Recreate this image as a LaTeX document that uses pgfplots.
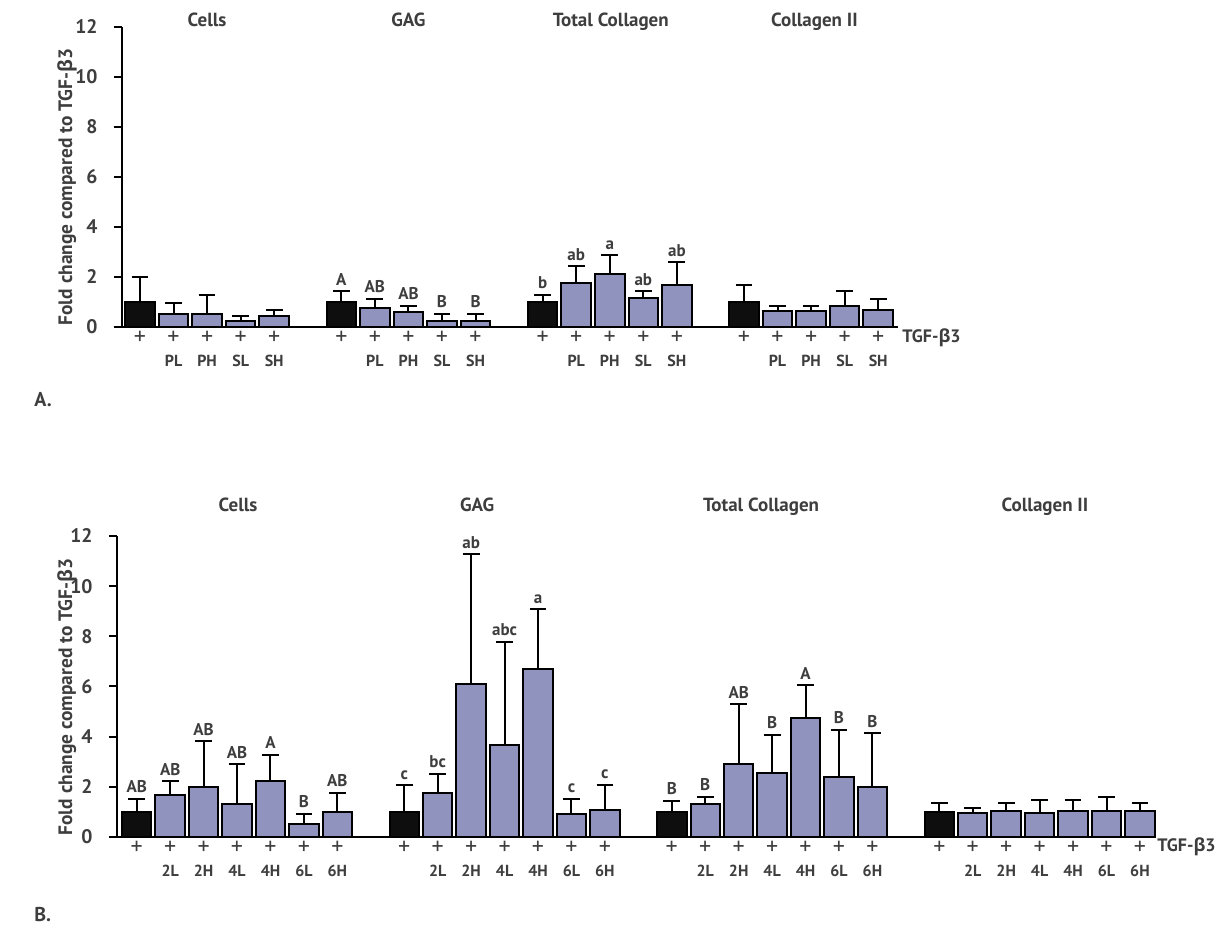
\documentclass[border=0pt]{standalone}
\usepackage{pgfplots}
\pgfplotsset{compat=1.18}
\usepackage{pgfplotstable}
\usepackage{fontspec}
\setmainfont{PT Sans}
\newfontfamily\grk{Open Sans}
\definecolor{txt}{RGB}{62,62,62}
\definecolor{lav}{RGB}{143,147,190}
\definecolor{blk}{RGB}{14,14,14}

% Panel A
\pgfplotstableread{
x y e lab
0 1.00 1.00 {}
6 1.00 0.43 A
12 1.00 0.28 b
18 1.00 0.67 {}
}\ACtl
\pgfplotstableread{
x y e lab
1 0.53 0.43 {}
2 0.53 0.76 {}
3 0.23 0.22 {}
4 0.45 0.22 {}
7 0.75 0.38 AB
8 0.60 0.25 AB
9 0.23 0.30 B
10 0.23 0.30 B
13 1.76 0.67 ab
14 2.13 0.74 a
15 1.16 0.27 ab
16 1.69 0.90 ab
19 0.63 0.22 {}
20 0.63 0.22 {}
21 0.85 0.58 {}
22 0.69 0.44 {}
}\ATr
% Panel B
\pgfplotstableread{
x y e lab
0 1.00 0.53 AB
8 1.00 1.06 c
16 1.00 0.45 B
24 1.00 0.36 {}
}\BCtl
\pgfplotstableread{
x y e lab
1 1.69 0.53 AB
2 1.99 1.82 AB
3 1.30 1.60 AB
4 2.22 1.06 A
5 0.53 0.40 B
6 1.00 0.75 AB
9 1.75 0.76 bc
10 6.11 5.16 ab
11 3.65 4.14 abc
12 6.71 2.37 a
13 0.90 0.61 c
14 1.08 0.99 c
17 1.32 0.29 B
18 2.92 2.37 AB
19 2.54 1.53 B
20 4.76 1.29 A
21 2.38 1.90 B
22 1.99 2.14 B
25 0.94 0.23 {}
26 1.04 0.30 {}
27 0.97 0.51 {}
28 1.04 0.44 {}
29 1.04 0.57 {}
30 1.04 0.30 {}
}\BTr

\pgfplotsset{
  panel/.style={
    scale only axis, clip=false,
    ymin=0, ymax=12, ytick={0,2,...,12},
    axis x line*=bottom, axis y line*=left,
    axis line style={line width=1pt, black},
    tick align=outside, major tick length=4pt,
    ytick style={line width=1pt, black},
    xtick style={draw=none},
    /pgf/number format/assume math mode=true,
    yticklabel style={font=\bfseries\fontsize{9.8}{10}\selectfont, text=txt, anchor=east, inner sep=0pt, xshift=-8pt},
    xticklabel style={font=\fontsize{12}{12}\selectfont, text=txt, anchor=base, inner sep=0pt, yshift=-5pt},
    extra x tick style={xticklabel style={font=\bfseries\fontsize{8}{9}\selectfont, yshift=-11pt}},
  },
  bars/.style={ybar, bar shift=0pt, bar width=0.88, fill=#1, draw=black, line width=1pt,
    error bars/.cd, y dir=plus, y explicit,
    error bar style={line width=1pt, black},
    error mark options={rotate=90, line width=1pt, black, mark size=4.2pt}},
  letters/.style={draw=none, mark=none, nodes near coords, point meta=explicit symbolic,
    every node near coord/.append style={anchor=south, inner sep=0pt, yshift=2.8pt,
      font=\bfseries\fontsize{8.5}{9}\selectfont, text=txt}},
}

\begin{document}
\begin{tikzpicture}
\useasboundingbox (0pt,0pt) rectangle (611.5pt,463pt);

% ---------- Panel A ----------
\begin{axis}[panel, at={(61pt,299.5pt)}, anchor=south west,
  width=388pt, height=150pt, xmin=-0.536, xmax=22.59,
  xtick={0,1,2,3,4,6,7,8,9,10,12,13,14,15,16,18,19,20,21,22},
  xticklabels={+,+,+,+,+,+,+,+,+,+,+,+,+,+,+,+,+,+,+,+},
  extra x ticks={1,2,3,4,7,8,9,10,13,14,15,16,19,20,21,22},
  extra x tick labels={PL,PH,SL,SH,PL,PH,SL,SH,PL,PH,SL,SH,PL,PH,SL,SH}]
\addplot[bars=blk] table[x=x, y=y, y error=e]{\ACtl};
\addplot[bars=lav] table[x=x, y=y, y error=e]{\ATr};
\addplot[letters] table[x=x, y expr=\thisrow{y}+\thisrow{e}, meta=lab]{\ACtl};
\addplot[letters] table[x=x, y expr=\thisrow{y}+\thisrow{e}, meta=lab]{\ATr};
\node[anchor=base, font=\bfseries\fontsize{9.5}{10}\selectfont, text=txt] at (axis cs:2,12) {Cells};
\node[anchor=base, font=\bfseries\fontsize{9.5}{10}\selectfont, text=txt] at (axis cs:8,12) {GAG};
\node[anchor=base, font=\bfseries\fontsize{9.5}{10}\selectfont, text=txt] at (axis cs:14.03,12) {Total Collagen};
\node[anchor=base, font=\bfseries\fontsize{9.5}{10}\selectfont, text=txt] at (axis cs:20.1,12) {Collagen II};
\node[anchor=base west, inner sep=0pt, font=\bfseries\fontsize{9}{9}\selectfont, text=txt] at ([xshift=2pt,yshift=-8pt]axis cs:22.59,0) {TGF-{\grk β}3};
\end{axis}

% ---------- Panel B ----------
\begin{axis}[panel, at={(58.5pt,44.5pt)}, anchor=south west,
  width=517.5pt, height=150.5pt, xmin=-0.59, xmax=30.36,
  xtick={0,1,2,3,4,5,6,8,9,10,11,12,13,14,16,17,18,19,20,21,22,24,25,26,27,28,29,30},
  xticklabels={+,+,+,+,+,+,+,+,+,+,+,+,+,+,+,+,+,+,+,+,+,+,+,+,+,+,+,+},
  extra x ticks={1,2,3,4,5,6,9,10,11,12,13,14,17,18,19,20,21,22,25,26,27,28,29,30},
  extra x tick labels={2L,2H,4L,4H,6L,6H,2L,2H,4L,4H,6L,6H,2L,2H,4L,4H,6L,6H,2L,2H,4L,4H,6L,6H}]
\addplot[bars=blk] table[x=x, y=y, y error=e]{\BCtl};
\addplot[bars=lav] table[x=x, y=y, y error=e]{\BTr};
\addplot[letters] table[x=x, y expr=\thisrow{y}+\thisrow{e}, meta=lab]{\BCtl};
\addplot[letters] table[x=x, y expr=\thisrow{y}+\thisrow{e}, meta=lab]{\BTr};
\node[anchor=base, font=\bfseries\fontsize{9.5}{10}\selectfont, text=txt] at ([yshift=12pt]axis cs:3.03,12) {Cells};
\node[anchor=base, font=\bfseries\fontsize{9.5}{10}\selectfont, text=txt] at ([yshift=12pt]axis cs:10.18,12) {GAG};
\node[anchor=base, font=\bfseries\fontsize{9.5}{10}\selectfont, text=txt] at ([yshift=12pt]axis cs:18.67,12) {Total Collagen};
\node[anchor=base, font=\bfseries\fontsize{9.5}{10}\selectfont, text=txt] at ([yshift=12pt]axis cs:27.16,12) {Collagen II};
\node[anchor=base west, inner sep=0pt, font=\bfseries\fontsize{9}{9}\selectfont, text=txt] at ([xshift=2.5pt,yshift=-7.5pt]axis cs:30.36,0) {TGF-{\grk β}3};
\end{axis}

% y labels and panel letters
\node[rotate=90, font=\bfseries\fontsize{9.7}{11}\selectfont, text=txt] at (33.5pt,369.5pt) {Fold change compared to TGF-{\grk β}3};
\node[rotate=90, font=\bfseries\fontsize{9.7}{11}\selectfont, text=txt] at (33.5pt,114.5pt) {Fold change compared to TGF-{\grk β}3};
\node[anchor=base west, inner sep=0pt, font=\bfseries\fontsize{10}{12}\selectfont, text=txt] at (17pt,259.5pt) {A.};
\node[anchor=base west, inner sep=0pt, font=\bfseries\fontsize{10}{12}\selectfont, text=txt] at (17pt,2pt) {B.};
\end{tikzpicture}
\end{document}
